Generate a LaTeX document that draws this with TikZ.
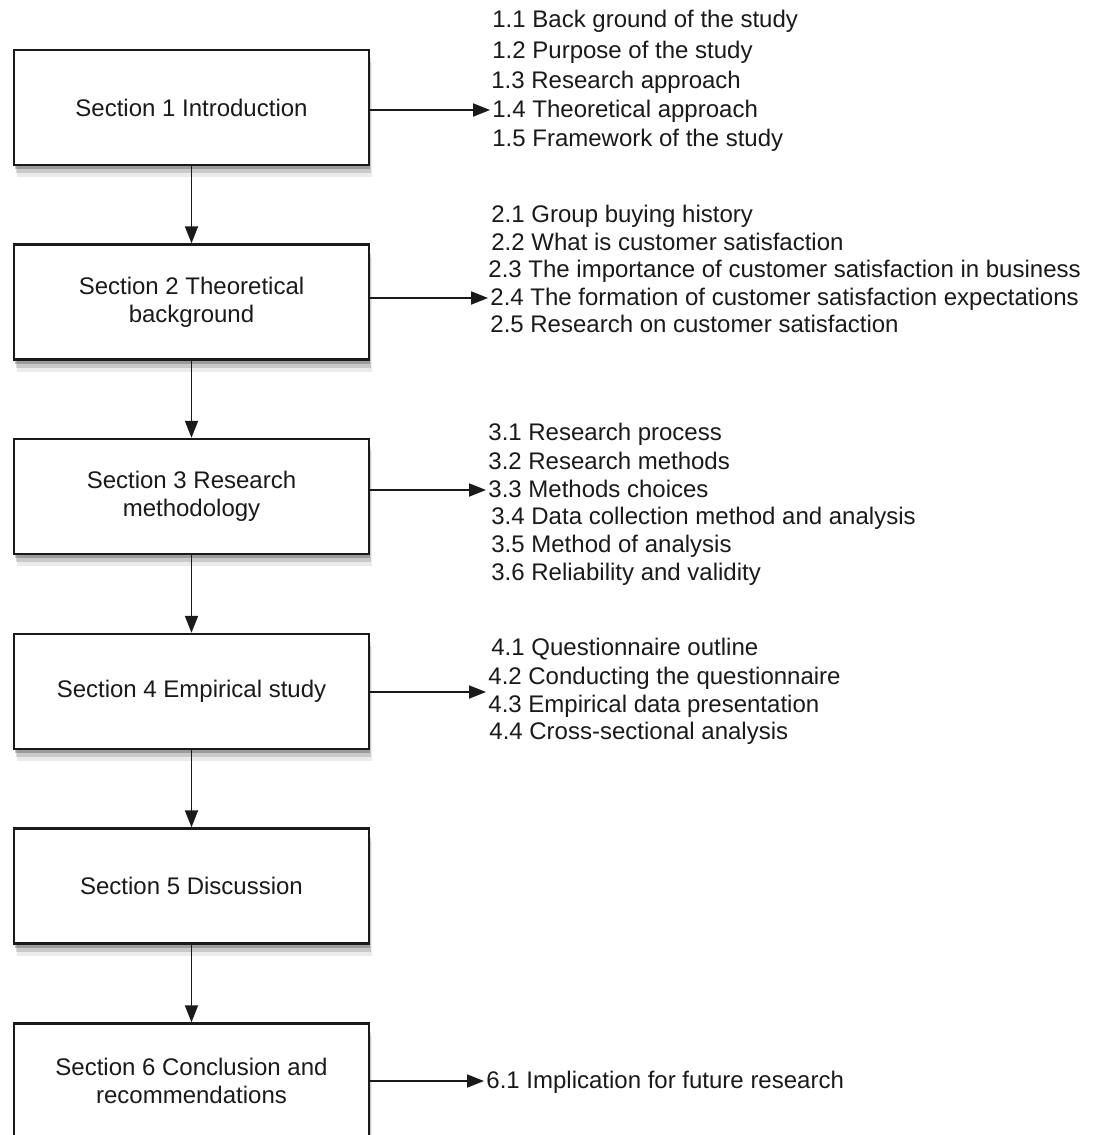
\documentclass[tikz,border=0pt]{standalone}
\usepackage{fontspec}
\setmainfont{Liberation Sans}
\usetikzlibrary{arrows.meta,shadows}
\definecolor{ink}{HTML}{1A1A1A}
\tikzset{
  secbox/.style={draw=ink, line width=1.2pt, fill=white, text=ink, align=center,
    minimum width=177.5pt, minimum height=57.5pt, inner sep=2pt,
    drop shadow={shadow xshift=0.5pt, shadow yshift=-2pt, opacity=0.22, fill=black},
    drop shadow={shadow xshift=1pt, shadow yshift=-4pt, opacity=0.14, fill=black},
    drop shadow={shadow xshift=1.5pt, shadow yshift=-6pt, opacity=0.08, fill=black}},
  item/.style={anchor=west, text=ink, inner xsep=1pt, inner ysep=0pt,
    text height=0.72em, text depth=0pt},
  arr/.style={draw=ink, line width=0.9pt, -{Triangle[length=8.5pt,width=6.5pt]}}
}
\begin{document}
\begin{tikzpicture}[x=0.5pt,y=-0.5pt, font=\fontsize{12}{14}\selectfont]
\useasboundingbox (0,0) rectangle (1100,1135);
\clip (0,0) rectangle (1100,1135);
\fill[white] (0,0) rectangle (1100,1135);

% section boxes
\node[secbox] (b1) at (191.5,107.5) {Section 1 Introduction};
\node[secbox] (b2) at (191.5,302) {Section 2 Theoretical\\background};
\node[secbox] (b3) at (191.5,496.5) {Section 3 Research\\methodology};
\node[secbox] (b4) at (191.5,691.5) {Section 4 Empirical study};
\node[secbox] (b5) at (191.5,886) {Section 5 Discussion};
\node[secbox] (b6) at (191.5,1081) {Section 6 Conclusion and\\recommendations};

% section 1 items
\node[item] (l11) at (490,20) {1.1 Back ground of the study};
\node[item] (l12) at (490,51) {1.2 Purpose of the study};
\node[item] (l13) at (489,81) {1.3 Research approach};
\node[item] (l14) at (490,110) {1.4 Theoretical approach};
\node[item] (l15) at (490,139) {1.5 Framework of the study};

% section 2 items
\node[item] (l21) at (489,215) {2.1 Group buying history};
\node[item] (l22) at (489,243) {2.2 What is customer satisfaction};
\node[item] (l23) at (486,270) {2.3 The importance of customer satisfaction in business};
\node[item] (l24) at (488,298) {2.4 The formation of customer satisfaction expectations};
\node[item] (l25) at (488,325) {2.5 Research on customer satisfaction};

% section 3 items
\node[item] (l31) at (486,433) {3.1 Research process};
\node[item] (l32) at (486,462) {3.2 Research methods};
\node[item] (l33) at (486,490) {3.3 Methods choices};
\node[item] (l34) at (489,517) {3.4 Data collection method and analysis};
\node[item] (l35) at (489,545) {3.5 Method of analysis};
\node[item] (l36) at (489,573) {3.6 Reliability and validity};

% section 4 items
\node[item] (l41) at (489,648) {4.1 Questionnaire outline};
\node[item] (l42) at (486,677) {4.2 Conducting the questionnaire};
\node[item] (l43) at (486,705) {4.3 Empirical data presentation};
\node[item] (l44) at (487,732) {4.4 Cross-sectional analysis};

% section 6 item
\node[item] (l61) at (484,1081) {6.1 Implication for future research};

% vertical connectors
\draw[arr] (b1) -- (b2);
\draw[arr] (b2) -- (b3);
\draw[arr] (b3) -- (b4);
\draw[arr] (b4) -- (b5);
\draw[arr] (b5) -- (b6);

% horizontal connectors
\draw[arr] (b1.east |- l14.west) -- (l14.west);
\draw[arr] (b2.east |- l24.west) -- (l24.west);
\draw[arr] (b3.east |- l33.west) -- (l33.west);
\coordinate (t4) at (486,692);
\draw[arr] (b4.east |- t4) -- (t4);
\draw[arr] (b6.east |- l61.west) -- (l61.west);
\end{tikzpicture}
\end{document}
